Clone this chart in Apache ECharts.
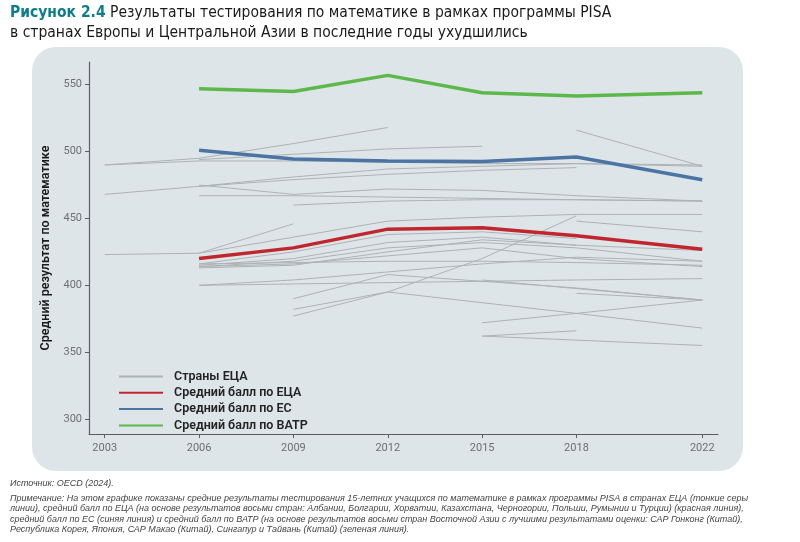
<!DOCTYPE html>
<html>
<head>
<meta charset="utf-8">
<script src="https://cdn.jsdelivr.net/npm/echarts@6/dist/echarts.min.js"></script>
<style>
  html, body { margin: 0; padding: 0; background: #fff; }
  #chart { width: 800px; height: 542px; }
</style>
</head>
<body>
<div id="chart"></div>
<script>
// годы тестирования PISA
const years = [2003, 2006, 2009, 2012, 2015, 2018, 2022]
const yTicks = [300, 350, 400, 450, 500, 550]

// средние баллы
const ecaAvg = [null, 420, 428, 442, 443, 437, 427]
const euAvg = [null, 501, 494.5, 493, 492.5, 496, 479]
const eapAvg = [null, 547, 545, 557, 544, 541.5, 544]

// отдельные страны ЕЦА (тонкие серые линии)
const countryLines = [
  [490, 495, 506, 518, null, null, null],
  [null, 494, 498, 502, 504, null, null],
  [490, 493, 493, 492, 491, 491, 489],
  [null, null, null, null, null, 516, 489],
  [468, 474, 479, 483, 486, 488, null],
  [null, 475, 468, 472, 471, 467, 463],
  [null, 467, 467, 466, 465, 464, 463],
  [null, null, 460, 463, 464, 464, 463],
  [null, 474, 481, 487, 489, 491, 490],
  [423, 424, 446, null, null, null, null],
  [null, 424, 436, 448, 451, 453, 453],
  [null, 416, 425, 438, 440, 435, null],
  [null, 415, 420, 432, 436, 430, 426],
  [null, 414, 418, 428, 432, 428, 418],
  [null, 414, 416, 422, 428, 420, 414],
  [null, 416, 417, 418, 418, 417, 415],
  [null, 413, 415, 425, 434, 430, null],
  [null, 400, 404, 410, 416, 421, 418],
  [null, 400, 401, 402, 403, 404, 405],
  [null, null, 377, 395, 420, 452, null],
  [null, null, 382, 395, 387, 379, 368],
  [null, null, 390, 408, 403, 398, 389],
  [null, null, null, null, 372, 379, 389],
  [null, null, null, null, 362, 366, null],
  [null, null, null, null, 362, null, 355],
  [null, null, null, null, null, 448, 440],
  [null, null, null, null, 404, null, 389],
  [null, null, null, null, null, 394, 389]
]

const noteLines = [
  'Примечание: На этом графике показаны средние результаты тестирования 15-летних учащихся по математике в рамках программы PISA в странах ЕЦА (тонкие серы',
  'линии), средний балл по ЕЦА (на основе результатов восьми стран: Албании, Болгарии, Хорватии, Казахстана, Черногории, Польши, Румынии и Турции) (красная линия),',
  'средний балл по ЕС (синяя линия) и средний балл по ВАТР (на основе результатов восьми стран Восточной Азии с лучшими результатами оценки: САР Гонконг (Китай),',
  'Республика Корея, Япония, САР Макао (Китай), Сингапур и Тайвань (Китай) (зеленая линия).'
]

const toPairs = vals => years.map((y, i) => [y, vals[i]])

const greySeries = countryLines.map(vals => ({
  name: 'Страны ЕЦА',
  type: 'line',
  data: toPairs(vals),
  connectNulls: true,
  symbol: 'none',
  silent: true,
  lineStyle: { color: '#aeb2b5', width: 1 },
  itemStyle: { color: '#aeb2b5' },
  z: 2
}))

const mainLine = (name, vals, color) => ({
  name: name,
  type: 'line',
  data: toPairs(vals),
  symbol: 'none',
  lineStyle: { color: color, width: 3.5 },
  itemStyle: { color: color },
  z: 5
})

const titleFont = '"Liberation Sans Narrow", "DejaVu Sans Condensed", sans-serif'

const chart = echarts.init(document.getElementById('chart'))

chart.setOption({
  animation: false,
  textStyle: { fontFamily: 'Roboto, sans-serif' },
  title: {
    left: 5,
    top: -2,
    text: '{a|Рисунок 2.4} {b|Результаты тестирования по математике в рамках программы PISA}\n{b|в странах Европы и Центральной Азии в последние годы ухудшились}',
    textStyle: {
      fontWeight: 'normal',
      rich: {
        a: { color: '#0f7d88', fontSize: 15.5, fontWeight: 'bold', lineHeight: 20, fontFamily: titleFont },
        b: { color: '#1a1a1a', fontSize: 15.5, fontWeight: 'normal', lineHeight: 20, fontFamily: titleFont }
      }
    }
  },
  graphic: [
    {
      type: 'rect',
      z: -10,
      shape: { x: 32, y: 47, width: 711, height: 424, r: 24 },
      style: { fill: '#dee5e9' }
    },
    {
      type: 'text',
      left: 10,
      top: 479,
      style: {
        text: 'Источник: OECD (2024).',
        font: 'italic 9px "Liberation Sans", sans-serif',
        fill: '#444'
      }
    },
    {
      type: 'text',
      left: 10,
      top: 493,
      style: {
        text: noteLines.join('\n'),
        font: 'italic 9px "Liberation Sans", sans-serif',
        lineHeight: 10.4,
        fill: '#444'
      }
    }
  ],
  legend: {
    orient: 'vertical',
    left: 113,
    top: 365,
    itemWidth: 44,
    itemHeight: 12,
    itemGap: 3.3,
    selectedMode: false,
    itemStyle: { opacity: 0 },
    data: ['Страны ЕЦА', 'Средний балл по ЕЦА', 'Средний балл по ЕС', 'Средний балл по ВАТР'],
    textStyle: {
      color: '#222',
      fontSize: 12.5,
      fontWeight: 600,
      padding: [0, 0, 0, 6]
    }
  },
  grid: { left: 89, right: 82, top: 62, bottom: 108 },
  xAxis: {
    type: 'value',
    min: 2002.5,
    max: 2022.5,
    axisLine: { show: true, lineStyle: { color: '#5a5f63', width: 1.2 } },
    axisTick: { show: true, customValues: years, length: 4, lineStyle: { color: '#5a5f63' } },
    axisLabel: {
      customValues: years,
      formatter: v => String(v),
      color: '#6b6f73',
      fontSize: 11,
      margin: 9
    },
    splitLine: { show: false }
  },
  yAxis: {
    type: 'value',
    min: 288.8,
    max: 567,
    name: 'Средний результат по математике',
    nameLocation: 'middle',
    nameGap: 37,
    nameTextStyle: { color: '#1a1a1a', fontSize: 12.5, fontWeight: 600 },
    axisLine: { show: true, lineStyle: { color: '#5a5f63', width: 1.2 } },
    axisTick: { show: true, customValues: yTicks, length: 4, lineStyle: { color: '#5a5f63' } },
    axisLabel: {
      customValues: yTicks,
      color: '#6b6f73',
      fontSize: 11,
      margin: 7
    },
    splitLine: { show: false }
  },
  series: [
    ...greySeries,
    mainLine('Средний балл по ЕЦА', ecaAvg, '#c0262d'),
    mainLine('Средний балл по ЕС', euAvg, '#4b74a3'),
    mainLine('Средний балл по ВАТР', eapAvg, '#5cb84a')
  ]
})
</script>
</body>
</html>
